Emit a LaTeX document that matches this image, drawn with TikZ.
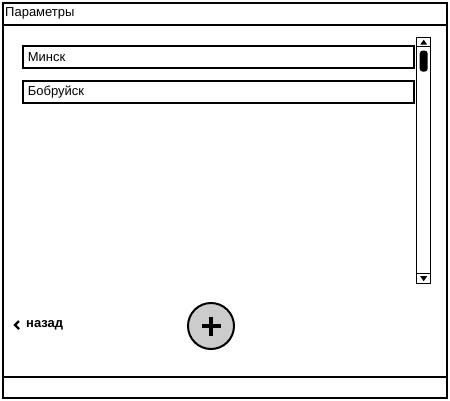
\documentclass[tikz,border=0pt]{standalone}
\usepackage{fontspec}
\setmainfont{Liberation Sans}
\usepackage{tikz}
\usetikzlibrary{positioning,shapes,arrows.meta,calc}
\definecolor{btngray}{rgb}{0.8,0.8,0.8}
\tikzstyle{win}=[%
      rectangle, draw=black, line width=1.8pt, fill=none,
      inner sep=0pt, anchor=north west
]
\tikzstyle{field}=[%
      rectangle, draw=black, line width=1.8pt, fill=white,
      minimum width=391pt, minimum height=22pt, text width=381pt,
      inner sep=5pt, align=left, font=\fontsize{13}{15}\selectfont
]
\tikzstyle{lbl}=[%
      inner sep=0pt, anchor=west, font=\fontsize{13}{15}\selectfont
]
\tikzstyle{sbox}=[%
      rectangle, draw=black, line width=1.4pt, fill=white,
      minimum width=14pt, inner sep=0pt
]
\begin{document}
\begin{tikzpicture}[x=1pt,y=-1pt]
    \useasboundingbox (0,0) rectangle (450,400);
    \node[win, minimum width=444pt, minimum height=395pt] (frame) at (2,2) {};
    \node[win, minimum width=444pt, minimum height=22pt] (titlebar) at (frame.north west) {};
    \node[win, minimum width=444pt, minimum height=21pt, anchor=south west] (statusbar) at (frame.south west) {};
    \node[lbl] (title) at (5,13) {Параметры};
    % list
    \node[field, anchor=north west] (minsk) at (22,45) {Минск};
    \node[field, below=11pt of minsk] (bobr) {Бобруйск};
    % scrollbar
    \node[sbox, minimum height=246pt, anchor=north west] (scroll) at (416,37) {};
    \node[sbox, minimum height=9pt, anchor=north] (up) at (scroll.north) {};
    \node[sbox, minimum height=10pt, anchor=south] (down) at (scroll.south) {};
    \fill ($(up)+(-3.5,2.5)$) -- ($(up)+(3.5,2.5)$) -- ($(up)+(0,-2.5)$) -- cycle;
    \fill ($(down)+(-3.5,-2.5)$) -- ($(down)+(3.5,-2.5)$) -- ($(down)+(0,2.5)$) -- cycle;
    \node[fill=black, rounded corners=3pt, minimum width=8pt, minimum height=21pt,
          inner sep=0pt, anchor=north] (thumb) at ($(up.south)+(0,3)$) {};
    % bottom controls
    \node[lbl, font=\fontsize{13}{15}\selectfont\bfseries] (back) at (26,325) {назад};
    \draw[line width=2.4pt] ($(back.west)+(-7,-4)$) -- ($(back.west)+(-11,0)$) -- ($(back.west)+(-7,4)$);
    \node[circle, draw=black, line width=2pt, fill=btngray, minimum size=46pt] (add) at (211,326) {};
    \draw[line width=4pt] ($(add)+(-9.5,0)$) -- ($(add)+(9.5,0)$)
                          ($(add)+(0,-9.5)$) -- ($(add)+(0,9.5)$);
\end{tikzpicture}
\end{document}
